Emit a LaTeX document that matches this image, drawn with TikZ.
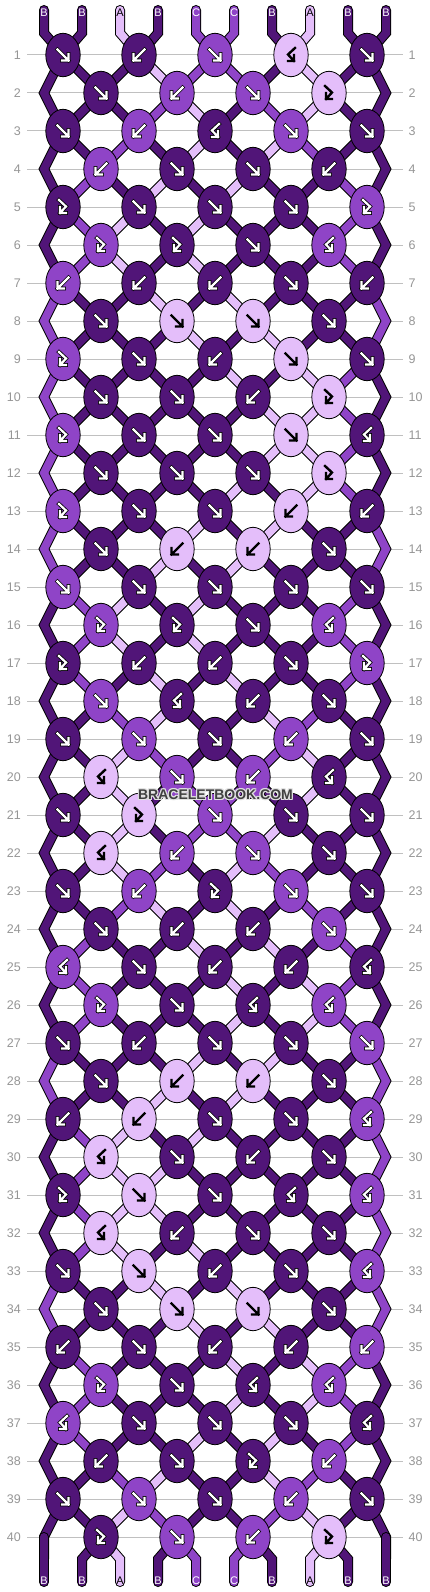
\documentclass[tikz,border=0pt]{standalone}
\usepackage{fontspec}
\setmainfont{Liberation Sans}
\usetikzlibrary{shapes.geometric}
\definecolor{cA}{RGB}{228,190,250}
\definecolor{cB}{RGB}{81,21,120}
\definecolor{cC}{RGB}{143,68,199}
\definecolor{gridgray}{RGB}{192,192,192}
\definecolor{numgray}{RGB}{150,150,150}
\definecolor{markgray}{RGB}{64,64,64}
\definecolor{halogray}{RGB}{225,225,225}

\newcount\slotc
\def\setrow#1#2{\slotc=0 \def\currow{#1}\parseslots#2\relax}
\def\parseslots#1{\ifx#1\relax\else\expandafter\xdef\csname S-\currow-\the\slotc\endcsname{#1}\advance\slotc by 1 \expandafter\parseslots\fi}
\setrow{0}{BBABCCBABB}

\def\tF{f}\def\tB{b}\def\tFB{fb}\def\tBF{bf}\def\lA{A}
\def\setknots#1#2{\ifodd#1 \def\koff{1}\else\def\koff{0}\fi
  \foreach \kk [count=\nn] in {#2}{\pgfmathtruncatemacro\pp{2*\nn-\koff}\expandafter\xdef\csname K-#1-\pp\endcsname{\kk}}}

\setknots{1}{f,b,f,bf,f}
\setknots{2}{f,b,f,fb}
\setknots{3}{f,b,bf,f,f}
\setknots{4}{b,f,f,b}
\setknots{5}{fb,f,f,f,fb}
\setknots{6}{fb,fb,f,bf}
\setknots{7}{b,b,b,f,b}
\setknots{8}{f,f,f,f}
\setknots{9}{fb,f,b,f,f}
\setknots{10}{f,f,b,fb}
\setknots{11}{fb,f,f,f,bf}
\setknots{12}{f,f,f,fb}
\setknots{13}{fb,f,f,b,b}
\setknots{14}{f,b,b,f}
\setknots{15}{f,f,f,f,f}
\setknots{16}{fb,fb,f,bf}
\setknots{17}{fb,b,b,f,fb}
\setknots{18}{f,bf,b,f}
\setknots{19}{f,f,f,b,f}
\setknots{20}{bf,f,b,bf}
\setknots{21}{f,fb,f,f,f}
\setknots{22}{bf,b,f,f}
\setknots{23}{f,b,fb,f,f}
\setknots{24}{f,b,b,f}
\setknots{25}{bf,f,b,b,bf}
\setknots{26}{fb,f,bf,bf}
\setknots{27}{f,b,f,f,f}
\setknots{28}{f,b,b,f}
\setknots{29}{b,b,f,f,bf}
\setknots{30}{bf,f,b,f}
\setknots{31}{fb,f,f,bf,bf}
\setknots{32}{bf,b,f,f}
\setknots{33}{f,f,b,f,bf}
\setknots{34}{f,f,f,f}
\setknots{35}{b,f,b,b,b}
\setknots{36}{fb,f,bf,bf}
\setknots{37}{bf,f,f,f,bf}
\setknots{38}{b,f,fb,b}
\setknots{39}{f,f,f,b,f}
\setknots{40}{fb,f,b,fb}

\def\simulate{%
 \foreach \rr in {1,...,40}{%
  \pgfmathtruncatemacro\rp{\rr-1}%
  \foreach \ii in {0,...,9}{\expandafter\xdef\csname S-\rr-\ii\endcsname{\csname S-\rp-\ii\endcsname}}%
  \ifodd\rr\def\plist{1,3,5,7,9}\else\def\plist{2,4,6,8}\fi
  \foreach \pk in \plist {%
    \edef\kt{\csname K-\rr-\pk\endcsname}%
    \edef\lft{\the\numexpr\pk-1\relax}%
    \def\doswap{0}%
    \ifx\kt\tF\def\doswap{1}\fi
    \ifx\kt\tB\def\doswap{1}\fi
    \if1\doswap
      \edef\tmpL{\csname S-\rr-\lft\endcsname}%
      \edef\tmpR{\csname S-\rr-\pk\endcsname}%
      \expandafter\xdef\csname S-\rr-\lft\endcsname{\tmpR}%
      \expandafter\xdef\csname S-\rr-\pk\endcsname{\tmpL}%
    \fi}}}
\simulate

\def\slotpos#1#2{%
 \ifnum#2=0 \edef\px{\the\numexpr44+38*#1\relax}\def\py{33}%
 \else\ifnum#2=41 \edef\px{\the\numexpr44+38*#1\relax}\def\py{1559}%
 \else
  \edef\py{\the\numexpr17+38*#2\relax}%
  \ifodd#2 \ifodd#1 \edef\pp{#1}\else\edef\pp{\the\numexpr#1+1\relax}\fi
  \else\ifodd#1 \edef\pp{\the\numexpr#1+1\relax}\else\edef\pp{#1}\fi\fi
  \ifnum\pp=0 \edef\px{\the\numexpr44+38*#1\relax}%
  \else\ifnum\pp=10 \edef\px{\the\numexpr44+38*#1\relax}%
  \else\edef\px{\the\numexpr25+38*\pp\relax}\fi\fi
 \fi\fi}

\newcommand\strpath[2]{\draw[strout] #2; \draw[strin, draw=c#1] #2;}
\newcommand\drawglyph[2]{%
 \ifx#1\tF \pic at (\kx,\ky) {gf=#2};\fi
 \ifx#1\tB \pic at (\kx,\ky) {gb=#2};\fi
 \ifx#1\tFB \pic at (\kx,\ky) {gfb=#2};\fi
 \ifx#1\tBF \pic at (\kx,\ky) {gbf=#2};\fi}

\begin{document}
\begin{tikzpicture}[x=1pt,y=-1pt,
  knot/.style={ellipse, draw=black, line width=0.8pt, minimum width=34.4pt, minimum height=43.4pt, inner sep=0pt},
  strout/.style={line width=10pt, draw=black, line cap=round, line join=miter},
  strin/.style={line width=8pt, line cap=round, line join=miter},
  glyphout/.style={line width=3.8pt, draw=black, line cap=rect, line join=miter},
  glyphin/.style={line width=2.2pt, draw=white, line cap=rect, line join=miter},
  glyphdark/.style={line width=2.4pt, draw=black, line cap=rect, line join=miter},
  rownum/.style={text=numgray, font=\fontsize{12.5}{13}\selectfont, inner sep=0pt},
  endlab/.style={font=\fontsize{11}{11}\selectfont, inner sep=0pt},
  wmark/.style={font=\bfseries\fontsize{14}{14}\selectfont, inner sep=0pt},
  pics/gf/.style={code={\draw[#1] (-5.5,-5.5) -- (5.5,5.5) (-1,5.5) -- (5.5,5.5) -- (5.5,-1);}},
  pics/gb/.style={code={\draw[#1] (5.5,-5.5) -- (-5.5,5.5) (1,5.5) -- (-5.5,5.5) -- (-5.5,-1);}},
  pics/gfb/.style={code={\draw[#1] (-4,-7) -- (3,-0.5) -- (-3,6) (3,6) -- (-3,6) -- (-3,0);}},
  pics/gbf/.style={code={\draw[#1] (4,-7) -- (-3,-0.5) -- (3,6) (-3,6) -- (3,6) -- (3,0);}}]

\fill[white] (0,0) rectangle (430,1592);
\useasboundingbox (0,0) rectangle (430,1592);

% row lines and numbers
\foreach \rr in {1,...,40}{
  \pgfmathtruncatemacro\yy{17+38*\rr}
  \draw[gridgray, line width=1pt] (27,\yy) -- (403,\yy);
  \node[rownum, anchor=east] (nl\rr) at (21,\yy) {\rr};
  \node[rownum, anchor=west] (nr\rr) at (408.5,\yy) {\rr};
}

% strings
\foreach \rr in {1,...,40}{
  \pgfmathtruncatemacro\rp{\rr-1}
  \pgfmathtruncatemacro\rn{\rr+1}
  \foreach \ii in {0,...,9}{
    \edef\col{\csname S-\rp-\ii\endcsname}
    \slotpos{\ii}{\rp}\let\ax\px\let\ay\py
    \slotpos{\ii}{\rr}\let\bx\px\let\by\py
    \def\isedge{0}\ifnum\ii=0 \def\isedge{1}\fi\ifnum\ii=9 \def\isedge{1}\fi
    \ifnum\rr=1
      \strpath{\col}{(\ax,10) -- (\ax,\ay) -- (\bx,\by)}
    \else
      \if1\isedge
        \ifodd\rr\else
          \slotpos{\ii}{\rn}\let\cx\px\let\cy\py
          \strpath{\col}{(\ax,\ay) -- (\bx,\by) -- (\cx,\cy)}
        \fi
      \else
        \strpath{\col}{(\ax,\ay) -- (\bx,\by)}
      \fi
    \fi
  }
}
\foreach \ii in {0,...,9}{
  \edef\col{\csname S-40-\ii\endcsname}
  \slotpos{\ii}{40}
  \pgfmathtruncatemacro\xx{44+38*\ii}
  \strpath{\col}{(\px,\py) -- (\xx,1559) -- (\xx,1582)}
}

% knots
\foreach \rr in {1,...,40}{
  \pgfmathtruncatemacro\rp{\rr-1}
  \ifodd\rr\def\plist{1,3,5,7,9}\else\def\plist{2,4,6,8}\fi
  \foreach \pk in \plist {
    \edef\kt{\csname K-\rr-\pk\endcsname}
    \edef\lft{\the\numexpr\pk-1\relax}
    \def\useleft{0}\ifx\kt\tF\def\useleft{1}\fi\ifx\kt\tFB\def\useleft{1}\fi
    \if1\useleft\edef\col{\csname S-\rp-\lft\endcsname}\else\edef\col{\csname S-\rp-\pk\endcsname}\fi
    \edef\kx{\the\numexpr25+38*\pk\relax}
    \edef\ky{\the\numexpr17+38*\rr\relax}
    \edef\fc{c\col}
    \node[knot, fill=\fc] (k-\rr-\pk) at (\kx,\ky) {};
    \ifx\col\lA\drawglyph{\kt}{glyphdark}\else\drawglyph{\kt}{glyphout}\drawglyph{\kt}{glyphin}\fi
  }
}

% string end labels
\foreach \ii in {0,...,9}{
  \pgfmathtruncatemacro\xx{44+38*\ii}
  \edef\lt{\csname S-0-\ii\endcsname}
  \ifx\lt\lA\def\lc{black}\else\def\lc{white}\fi
  \node[endlab, text=\lc] (top\ii) at (\xx,12.5) {\lt};
  \edef\lt{\csname S-40-\ii\endcsname}
  \ifx\lt\lA\def\lc{black}\else\def\lc{white}\fi
  \node[endlab, text=\lc] (bot\ii) at (\xx,1580.5) {\lt};
}

% watermark with light halo
\foreach \dx/\dy in {-1/-1,0/-1,1/-1,-1/0,1/0,-1/1,0/1,1/1}{
  \node[wmark, text=halogray] at (215.5+\dx,795+\dy) {BRACELETBOOK.COM};
}
\node[wmark, text=markgray] (wm) at (215.5,795) {BRACELETBOOK.COM};
\end{tikzpicture}
\end{document}
